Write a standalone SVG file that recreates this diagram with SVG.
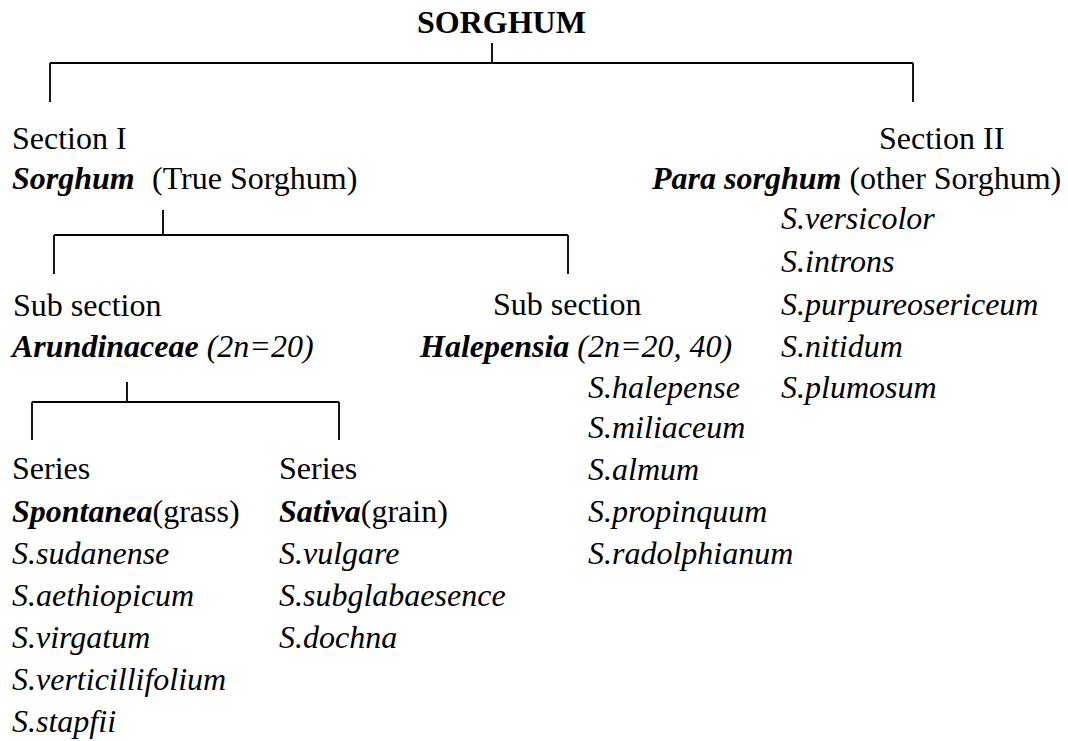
<svg xmlns="http://www.w3.org/2000/svg" width="1068" height="741" viewBox="0 0 1068 741">
<style>
text{font-family:"Liberation Serif","Times New Roman",serif;font-size:32px;fill:#000}
.b{font-weight:bold}
.i{font-style:italic}
.bi{font-weight:bold;font-style:italic}
.ln{stroke:#000;stroke-width:1.8;fill:none}
</style>
<rect width="1068" height="741" fill="#fff"/>
<g id="connectors">
<path class="ln" d="M492,43V63M50,63H913M50,63V102M913,63V102"/>
<path class="ln" d="M163,210V235M54,235H568M54,235V274M568,235V274"/>
<path class="ln" d="M127,382V402M32,402H339M32,402V440M339,402V440"/>
</g>
<g id="root"><text class="b" x="417" y="33">SORGHUM</text></g>
<g id="section1">
<text x="12" y="149">Section I</text>
<text x="12" y="189"><tspan class="bi">Sorghum</tspan></text>
<text x="152" y="189">(True Sorghum)</text>
</g>
<g id="section2">
<text x="879" y="149">Section II</text>
<text x="652" y="189"><tspan class="bi">Para sorghum</tspan> (other Sorghum)</text>
<text class="i" x="781" y="229">S.versicolor</text>
<text class="i" x="781" y="272">S.introns</text>
<text class="i" x="781" y="315">S.purpureosericeum</text>
<text class="i" x="781" y="357">S.nitidum</text>
<text class="i" x="781" y="398">S.plumosum</text>
</g>
<g id="arundinaceae">
<text x="13" y="316">Sub section</text>
<text x="12" y="357"><tspan class="bi">Arundinaceae</tspan><tspan class="i"> (2n=20)</tspan></text>
</g>
<g id="halepensia">
<text x="493" y="315">Sub section</text>
<text x="420" y="357"><tspan class="bi">Halepensia</tspan><tspan class="i"> (2n=20, 40)</tspan></text>
<text class="i" x="588" y="398">S.halepense</text>
<text class="i" x="588" y="438">S.miliaceum</text>
<text class="i" x="588" y="480">S.almum</text>
<text class="i" x="588" y="522">S.propinquum</text>
<text class="i" x="588" y="564">S.radolphianum</text>
</g>
<g id="spontanea">
<text x="12" y="479">Series</text>
<text x="12" y="522"><tspan class="bi">Spontanea</tspan>(grass)</text>
<text class="i" x="12" y="564">S.sudanense</text>
<text class="i" x="12" y="606">S.aethiopicum</text>
<text class="i" x="12" y="648">S.virgatum</text>
<text class="i" x="12" y="690">S.verticillifolium</text>
<text class="i" x="12" y="732">S.stapfii</text>
</g>
<g id="sativa">
<text x="279" y="479">Series</text>
<text x="279" y="522"><tspan class="bi">Sativa</tspan>(grain)</text>
<text class="i" x="279" y="564">S.vulgare</text>
<text class="i" x="279" y="606">S.subglabaesence</text>
<text class="i" x="279" y="648">S.dochna</text>
</g>
</svg>
